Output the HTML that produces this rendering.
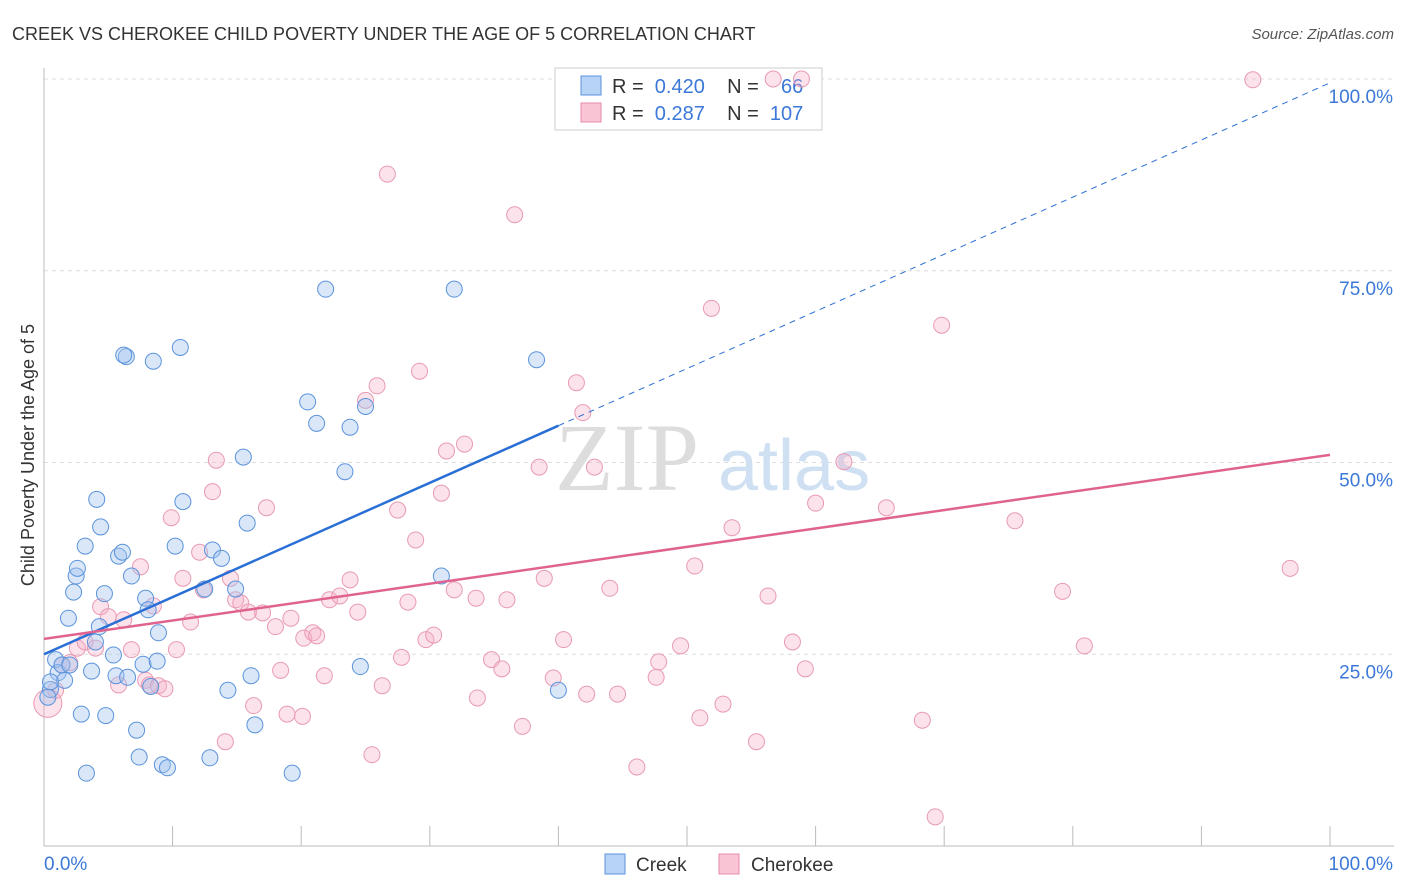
<!DOCTYPE html>
<html><head><meta charset="utf-8"><style>
body{margin:0;background:#fff;font-family:"Liberation Sans",sans-serif;}
svg{display:block}
</style></head><body>
<svg width="1406" height="892">
<text x="12" y="40" font-size="18" fill="#333">CREEK VS CHEROKEE CHILD POVERTY UNDER THE AGE OF 5 CORRELATION CHART</text>
<text x="1394" y="39" font-size="15" fill="#555" font-style="italic" text-anchor="end">Source: ZipAtlas.com</text>
<g id="grid"></g>
<text x="555" y="490" font-size="96" fill="#ddd" font-family="Liberation Serif">ZIP</text>
<text x="718" y="490" font-size="72" fill="#cfe0f3">atlas</text>
<text x="34" y="455" font-size="18" fill="#333" text-anchor="middle" transform="rotate(-90 34 455)">Child Poverty Under the Age of 5</text>
<g>
<rect x="555" y="68" width="267" height="62" fill="#fff" stroke="#ccc"/>
<rect x="581" y="76" width="20" height="19" fill="#b7d3f5" stroke="#5b93db"/>
<rect x="581" y="103" width="20" height="19" fill="#f9c5d5" stroke="#e68aa8"/>
<text x="612" y="93" font-size="20" fill="#333" xml:space="preserve">R =  <tspan fill="#3b78d8">0.420</tspan>    N =    <tspan fill="#3b78d8">66</tspan></text>
<text x="612" y="120" font-size="20" fill="#333" xml:space="preserve">R =  <tspan fill="#3b78d8">0.287</tspan>    N =  <tspan fill="#3b78d8">107</tspan></text>
</g>
<g id="marks"></g>
<g>
<rect x="605" y="854" width="20" height="20" fill="#b7d3f5" stroke="#5b93db"/>
<text x="636" y="871" font-size="19" fill="#333">Creek</text>
<rect x="719" y="854" width="20" height="20" fill="#f9c5d5" stroke="#e68aa8"/>
<text x="751" y="871" font-size="19" fill="#333">Cherokee</text>
</g>
</svg>
<script>
const yTicks=[25,50,75,100];
const xTickCount=10;
const creekX=[0.5,0.9,1.1,1.4,1.6,2.0,1.9,2.3,2.5,2.6,2.9,3.2,3.3,3.7,4.0,4.1,4.3,4.4,4.7,4.8,5.4,5.6,5.8,6.1,6.4,6.5,6.8,7.2,7.4,7.7,7.9,8.1,8.3,8.5,8.8,8.9,9.2,9.6,10.2,10.6,10.8,12.5,12.9,13.1,13.8,14.3,14.9,15.5,15.8,16.1,16.4,19.3,20.5,21.2,21.9,23.4,23.8,24.6,25.0,30.9,31.9,38.3,40.0,6.2,0.5,0.3];
const creekY=[20.4,24.3,22.6,23.6,21.6,23.6,29.7,33.1,35.2,36.2,17.2,39.1,9.5,22.8,26.6,45.2,28.6,41.6,32.9,17.0,24.9,22.2,37.8,38.3,63.8,22.0,35.2,15.1,11.6,23.7,32.3,30.8,20.8,63.2,24.1,27.8,10.6,10.2,39.1,65.0,44.9,33.5,11.5,38.6,37.5,20.3,33.5,50.7,42.1,22.2,15.8,9.5,57.9,55.1,72.6,48.8,54.6,23.4,57.3,35.2,72.6,63.4,20.3,64.0,21.4,19.4];
const cherX=[0.3,0.9,1.4,2.0,2.6,3.2,4.0,4.4,5.0,5.8,6.2,6.8,7.5,7.9,8.2,8.5,8.9,9.4,9.9,10.3,10.8,11.4,12.1,12.4,13.1,13.4,14.1,14.5,14.9,15.3,15.9,16.3,17.0,17.3,18.0,18.4,18.9,19.2,20.1,20.2,20.9,21.2,21.8,22.2,23.0,23.8,24.4,25.0,25.5,25.9,26.3,26.7,27.5,27.8,28.3,28.9,29.2,29.7,30.3,30.9,31.3,31.9,32.7,33.6,33.7,34.8,35.6,36.0,36.6,37.2,38.5,38.9,39.6,40.4,41.4,41.9,42.2,42.8,44.0,44.6,46.1,47.6,47.8,49.5,50.6,51.0,51.9,52.8,53.5,55.4,56.3,58.2,59.2,60.0,62.2,65.5,68.3,69.3,69.8,75.5,79.2,80.9,94.0,96.9,56.7,58.9];
const cherY=[18.6,20.3,23.6,23.9,25.8,26.6,25.8,31.2,29.9,21.0,29.5,25.6,36.4,21.6,21.0,31.3,20.9,20.5,42.8,25.6,34.9,29.2,38.3,33.4,46.2,50.3,13.6,34.9,32.1,31.7,30.5,18.3,30.4,44.1,28.6,22.9,17.2,29.7,16.9,27.1,27.8,27.4,22.2,32.1,32.6,34.7,30.5,58.1,11.9,60.0,20.9,87.6,43.8,24.6,31.8,39.9,61.9,26.9,27.5,46.0,51.5,33.4,52.4,32.3,19.3,24.3,23.1,32.1,82.3,15.6,49.4,34.9,21.9,26.9,60.4,56.5,19.8,49.4,33.6,19.8,10.3,22.0,24.0,26.1,36.5,16.7,70.1,18.5,41.5,13.6,32.6,26.6,23.1,44.7,50.1,44.1,16.4,3.8,67.9,42.4,33.2,26.1,99.9,36.2,100,100];
const creekLine=[25.0,54.8];
const cherLine=[27.0,51.0];
const ns="http://www.w3.org/2000/svg";
const X0=44,X1=1330,Y0=846,Y100=79;
const sx=v=>X0+(X1-X0)*v/100, sy=v=>Y0-(Y0-Y100)*v/100;
function mk(t,a,p){const e=document.createElementNS(ns,t);for(const k in a)e.setAttribute(k,a[k]);p.appendChild(e);return e;}
const g=document.getElementById('grid'), m=document.getElementById('marks');
for(const t of yTicks){
 const l=mk('line',{x1:X0,x2:1394,y1:sy(t),y2:sy(t),stroke:'#ddd','stroke-dasharray':'4,4'},g);
 
 
 const tx=mk('text',{x:1393,y:sy(t)+24,'font-size':19,fill:'#3b78d8','text-anchor':'end'},g);
 tx.textContent=t.toFixed(1)+'%';
 
 
}
const ya=mk('line',{x1:X0,x2:X0,y1:68,y2:Y0,stroke:'#bbb'},g);


const xa=mk('line',{x1:X0,x2:1394,y1:Y0,y2:Y0,stroke:'#bbb'},g);


for(let i=0;i<=xTickCount;i++){
 const t=mk('line',{x1:sx(i*10),x2:sx(i*10),y1:Y0-20,y2:Y0,stroke:'#bbb'},g);
 
 
}
const xl=mk('text',{x:44,y:870,'font-size':19,fill:'#3b78d8'},g);xl.textContent='0.0%';


const xr=mk('text',{x:1393,y:870,'font-size':19,fill:'#3b78d8','text-anchor':'end'},g);xr.textContent='100.0%';


cherX.forEach((x,i)=>{
 const c=mk('circle',{cx:sx(x),cy:sy(cherY[i]),r:i==0?14:8,fill:'rgba(246,176,198,0.35)',stroke:'#e89ab3','stroke-width':1},m);
 
 
});
creekX.forEach((x,i)=>{
 const c=mk('circle',{cx:sx(x),cy:sy(creekY[i]),r:8,fill:'rgba(160,196,240,0.4)',stroke:'#5b93db','stroke-width':1},m);
 
 
});
const cy=x=>creekLine[0]+(creekLine[1]-creekLine[0])*x/40;
const l1=mk('line',{x1:sx(0),y1:sy(cy(0)),x2:sx(40),y2:sy(cy(40)),stroke:'#2a6fd6','stroke-width':2.5},m);


const l2=mk('line',{x1:sx(40),y1:sy(cy(40)),x2:sx(100),y2:sy(cy(100)),stroke:'#2a6fd6','stroke-width':1,'stroke-dasharray':'6,5'},m);


const l3=mk('line',{x1:sx(0),y1:sy(cherLine[0]),x2:sx(100),y2:sy(cherLine[1]),stroke:'#e0638f','stroke-width':2.5},m);


</script>
</body></html>
